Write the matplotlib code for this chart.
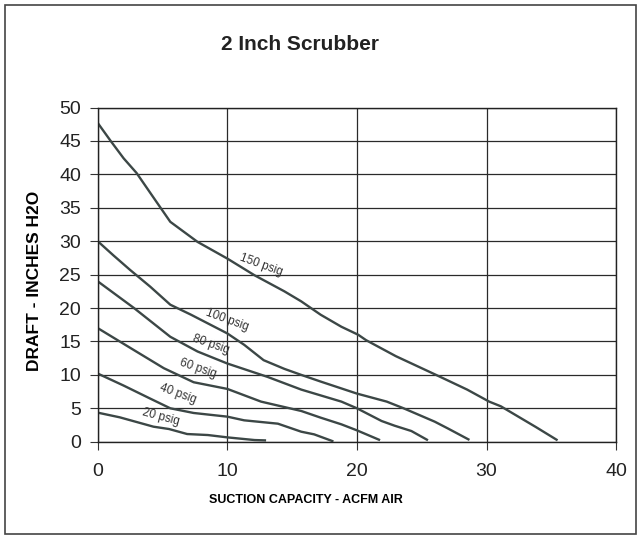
import matplotlib.pyplot as plt
from matplotlib.patches import Rectangle

plt.rcParams['font.family'] = ['Liberation Sans', 'DejaVu Sans']

# curves: suction capacity (ACFM) vs draft (in H2O)
x150 = [0, 1.0, 2.0, 3.0, 4.6, 5.6, 7.7, 10.0, 12.1, 14.4, 15.7, 17.2, 18.8, 20.1, 20.7, 23.0, 26.1, 28.5, 30.2, 31.1, 33.8, 35.4]
y150 = [47.7, 45.0, 42.4, 40.2, 35.7, 32.9, 29.9, 27.4, 24.9, 22.5, 21.0, 19.0, 17.2, 16.0, 15.2, 12.8, 10.0, 7.8, 6.0, 5.3, 2.2, 0.3]

x100 = [0, 1.2, 2.5, 4.05, 5.6, 7.2, 10.0, 11.3, 12.8, 14.4, 15.7, 17.2, 20.0, 22.3, 23.6, 26.0, 27.0, 28.6]
y100 = [30, 27.9, 25.7, 23.2, 20.5, 19.0, 16.2, 14.5, 12.2, 10.9, 10.0, 9.0, 7.2, 6.0, 5.0, 3.0, 2.0, 0.35]

x80 = [0, 2.8, 5.6, 7.7, 10.0, 13.1, 15.7, 18.8, 20.0, 21.9, 22.9, 24.2, 25.4]
y80 = [24, 20.0, 15.7, 13.5, 11.7, 9.7, 7.8, 6.0, 5.0, 3.1, 2.4, 1.6, 0.3]

x60 = [0, 2.8, 5.1, 7.4, 10.0, 12.6, 15.7, 17.2, 18.8, 20.0, 21.7]
y60 = [17, 13.7, 11.0, 8.9, 7.9, 6.0, 4.6, 3.6, 2.6, 1.7, 0.3]

x40 = [0, 2.0, 4.0, 5.6, 7.4, 10.0, 11.3, 13.9, 15.7, 16.7, 18.1]
y40 = [10.2, 8.4, 6.5, 5.0, 4.3, 3.75, 3.2, 2.7, 1.5, 1.1, 0.1]

x20 = [0, 1.7, 4.3, 5.5, 6.9, 8.5, 10.0, 12.1, 12.9]
y20 = [4.35, 3.65, 2.25, 1.9, 1.15, 1.0, 0.65, 0.25, 0.2]

curves = [(x150, y150), (x100, y100), (x80, y80), (x60, y60), (x40, y40), (x20, y20)]

labels = ['150 psig', '100 psig', '80 psig', '60 psig', '40 psig', '20 psig']
label_x = [12.6, 10.0, 8.7, 7.7, 6.2, 4.9]
label_y = [26.4, 18.2, 14.5, 10.9, 7.1, 3.7]
label_rot = [-20, -20, -19, -19, -20, -15]

line_col = '#3c4746'

fig = plt.figure(figsize=(6.39, 5.36), dpi=100)
ax = fig.add_axes([0.1529, 0.1759, 0.8114, 0.6235])

for xs, ys in curves:
    ax.plot(xs, ys, color=line_col, lw=1.7, solid_joinstyle='round')

for t, lx, ly, r in zip(labels, label_x, label_y, label_rot):
    ax.text(lx, ly, t, rotation=r, fontsize=8.5, color='#333333',
            ha='center', va='center', rotation_mode='anchor')

ax.set_xlim(0, 40)
ax.set_ylim(0, 50)
ax.set_xticks([0, 10, 20, 30, 40])
ax.set_yticks(range(0, 51, 5))
ax.grid(True, color='#2a2a2a', lw=0.9)
ax.tick_params(direction='out', length=6, width=0.8, labelsize=14, color='#333333',
               labelcolor='#222222')
ax.tick_params(axis='x', pad=9)
ax.tick_params(axis='y', pad=6)
for s in ax.spines.values():
    s.set_color('#222222')
    s.set_linewidth(1.0)

ax.set_xlabel('SUCTION CAPACITY - ACFM AIR', fontsize=9, fontweight='bold')
ax.xaxis.set_label_coords(0.402, -0.155)
ax.set_ylabel('DRAFT - INCHES H2O', fontsize=12.5, fontweight='bold')
ax.yaxis.set_label_coords(-0.107, 0.48)

fig.text(300 / 639, 1 - 45 / 536, '2 Inch Scrubber', fontsize=15, fontweight='bold',
         ha='center', va='center', color='#222222')

# outer frame
fig.patches.append(Rectangle((5 / 639, 2 / 536), 631 / 639, 529 / 536,
                             transform=fig.transFigure, fill=False,
                             edgecolor='#444444', lw=1.2))

fig.savefig('out.png', dpi=100)
